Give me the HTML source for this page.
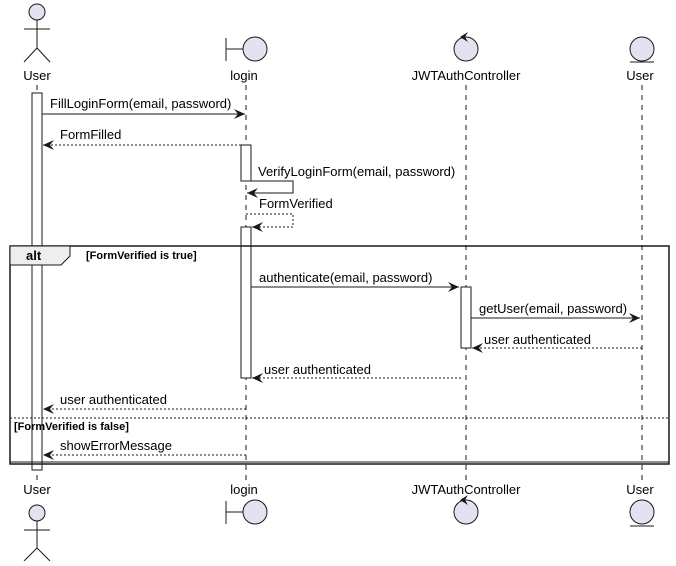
<!DOCTYPE html>
<html><head><style>
html,body{margin:0;padding:0;background:#fff;}
svg text{font-family:"Liberation Sans",sans-serif;font-size:13px;fill:#000;}
</style></head><body>
<svg width="676" height="561" viewBox="0 0 676 561" xmlns="http://www.w3.org/2000/svg">
<defs>
<marker id="a" markerWidth="12" markerHeight="10" refX="11" refY="5" orient="auto" markerUnits="userSpaceOnUse">
<path d="M0,0 L11,5 L0,10 L4,5 Z" fill="#181818"/>
</marker>
</defs>
<g stroke="#181818" stroke-width="1" stroke-dasharray="5,5" fill="none">
<line x1="37" y1="85" x2="37" y2="480"/>
<line x1="246" y1="85" x2="246" y2="480"/>
<line x1="466" y1="85" x2="466" y2="480"/>
<line x1="642" y1="85" x2="642" y2="480"/>
</g>
<!-- top participants -->
<g stroke="#181818" fill="#E2E2F0" stroke-width="1">
<circle cx="37" cy="12" r="8"/>
<line x1="37" y1="20" x2="37" y2="48"/><line x1="24" y1="29" x2="50" y2="29"/>
<line x1="37" y1="48" x2="24" y2="62"/><line x1="37" y1="48" x2="50" y2="62"/>
<line x1="226" y1="38" x2="226" y2="61"/><line x1="226" y1="49" x2="243" y2="49"/>
<circle cx="255" cy="49" r="12"/>
<circle cx="466" cy="49" r="12"/>
<circle cx="642" cy="49" r="12"/><line x1="630" y1="62" x2="654" y2="62"/>
<circle cx="37" cy="513" r="8"/>
<line x1="37" y1="521" x2="37" y2="548"/><line x1="24" y1="530" x2="50" y2="530"/>
<line x1="37" y1="548" x2="24" y2="561"/><line x1="37" y1="548" x2="50" y2="561"/>
<line x1="226" y1="501" x2="226" y2="524"/><line x1="226" y1="512" x2="243" y2="512"/>
<circle cx="255" cy="512" r="12"/>
<circle cx="466" cy="512" r="12"/>
<circle cx="642" cy="512" r="12"/><line x1="630" y1="526" x2="654" y2="526"/>
</g>
<path d="M468,32 L460,37 L468,42 L465,37 Z" fill="#181818"/>
<path d="M468,495 L460,500 L468,505 L465,500 Z" fill="#181818"/>
<text x="37" y="80" text-anchor="middle">User</text>
<text x="244" y="80" text-anchor="middle">login</text>
<text x="466" y="80" text-anchor="middle">JWTAuthController</text>
<text x="640" y="80" text-anchor="middle">User</text>
<text x="37" y="494" text-anchor="middle">User</text>
<text x="244" y="494" text-anchor="middle">login</text>
<text x="466" y="494" text-anchor="middle">JWTAuthController</text>
<text x="640" y="494" text-anchor="middle">User</text>
<!-- activations -->
<g stroke="#181818" fill="#fff">
<rect x="32" y="93" width="10" height="377"/>
<rect x="241" y="145" width="10" height="36"/>
<rect x="241" y="227" width="10" height="151"/>
<rect x="461" y="287" width="10" height="61"/>
</g>
<!-- alt frame -->
<g stroke="#181818" fill="none">
<rect x="10" y="246" width="659" height="218" stroke-width="1.5"/>
<line x1="10" y1="462" x2="669" y2="462"/>
<path d="M10,246 L70,246 L70,256 L61,265 L10,265 Z" fill="#EEEEEE"/>
<line x1="10" y1="418" x2="669" y2="418" stroke-dasharray="2,2"/>
</g>
<text x="26" y="260" font-weight="bold" style="font-weight:bold">alt</text>
<text x="86" y="259" style="font-size:11px;font-weight:bold">[FormVerified is true]</text>
<text x="14" y="430" style="font-size:11px;font-weight:bold">[FormVerified is false]</text>
<!-- messages -->
<g stroke="#181818" fill="none" marker-end="url(#a)">
<line x1="42" y1="114" x2="245" y2="114"/>
<line x1="241" y1="145" x2="43" y2="145" stroke-dasharray="2,2"/>
<polyline points="251,181 293,181 293,193 247,193"/>
<polyline points="246,214 293,214 293,227 252,227" stroke-dasharray="2,2"/>
<line x1="251" y1="287" x2="459" y2="287"/>
<line x1="471" y1="318" x2="640" y2="318"/>
<line x1="642" y1="348" x2="472" y2="348" stroke-dasharray="2,2"/>
<line x1="461" y1="378" x2="252" y2="378" stroke-dasharray="2,2"/>
<line x1="246" y1="409" x2="43" y2="409" stroke-dasharray="2,2"/>
<line x1="246" y1="455" x2="43" y2="455" stroke-dasharray="2,2"/>
</g>
<text x="50" y="108">FillLoginForm(email, password)</text>
<text x="60" y="139">FormFilled</text>
<text x="258" y="176">VerifyLoginForm(email, password)</text>
<text x="259" y="208">FormVerified</text>
<text x="259" y="282">authenticate(email, password)</text>
<text x="479" y="313">getUser(email, password)</text>
<text x="484" y="344">user authenticated</text>
<text x="264" y="374">user authenticated</text>
<text x="60" y="404">user authenticated</text>
<text x="60" y="450">showErrorMessage</text>
</svg>
</body></html>
